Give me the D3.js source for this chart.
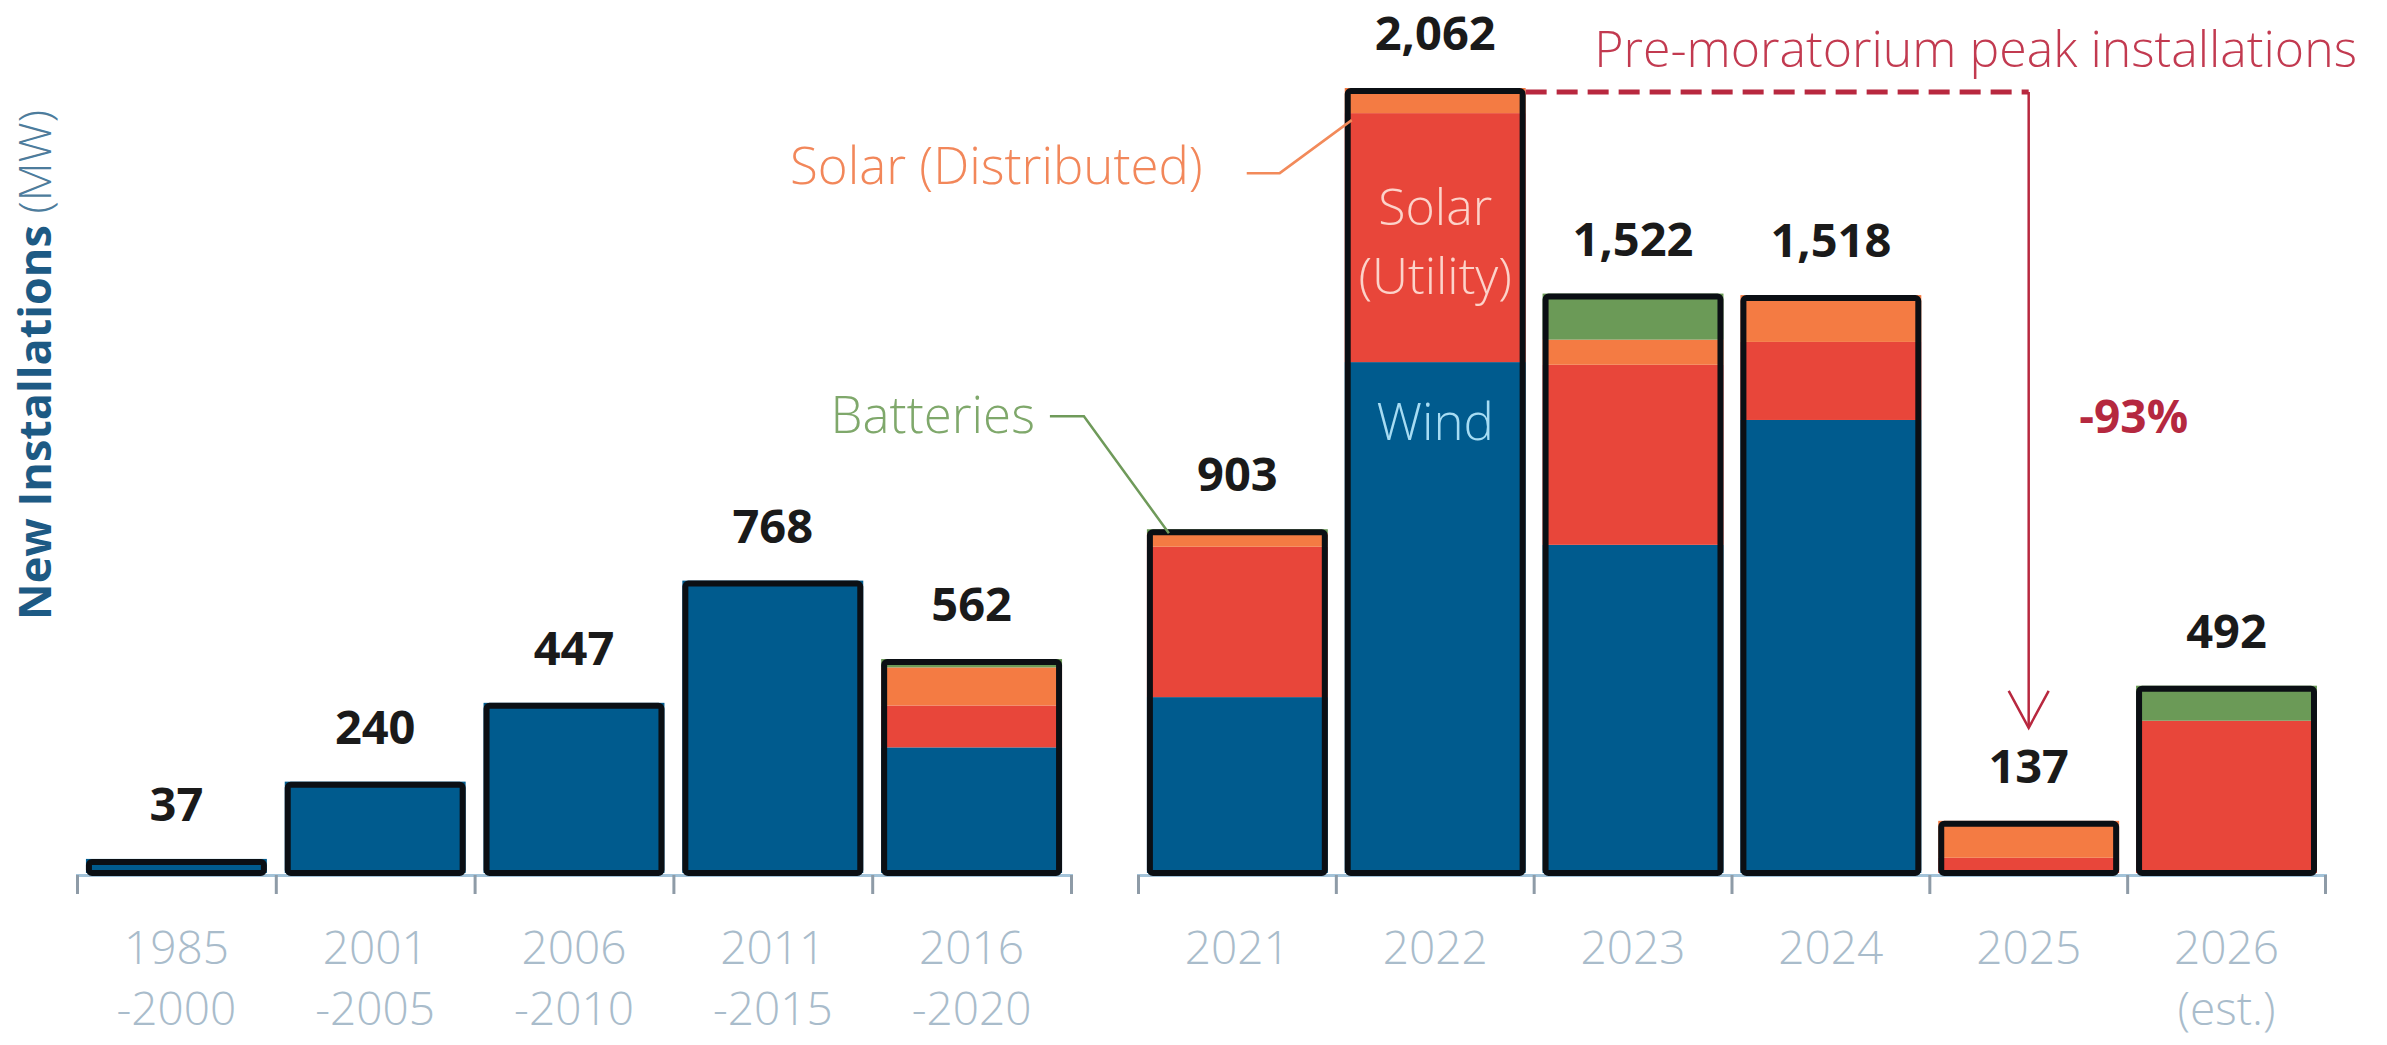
<!DOCTYPE html>
<html>
<head>
<meta charset="utf-8">
<title>New Installations (MW)</title>
<script src="https://d3js.org/d3.v7.min.js"></script>
<style>
  body { margin: 0; background: #fff; }
  svg { display: block; font-family: "Open Sans", sans-serif; }
</style>
</head>
<body>
<svg width="2387" height="1045"></svg>
<script>

// two groups of periods on the x axis
var periodsA = ["1985-2000", "2001-2005", "2006-2010", "2011-2015", "2016-2020"];
var periodsB = ["2021", "2022", "2023", "2024", "2025", "2026"];
var tickLabels = [["1985", "-2000"], ["2001", "-2005"], ["2006", "-2010"], ["2011", "-2015"], ["2016", "-2020"],
                  ["2021"], ["2022"], ["2023"], ["2024"], ["2025"], ["2026", "(est.)"]];

// MW per period
var totals           = [37, 240, 447, 768, 562, 903, 2062, 1522, 1518, 137, 492];
var wind             = [37, 240, 447, 768, 330, 462, 1342, 862, 1190, 0, 0];
var solarUtility     = [0, 0, 0, 0, 110, 395, 654, 473, 205, 40, 400];
var solarDistributed = [0, 0, 0, 0, 100, 36, 66, 66, 123, 97, 0];
var batteries        = [0, 0, 0, 0, 22, 10, 0, 121, 0, 0, 92];

var keys = ["wind", "utility", "distributed", "batteries"];
var colors = { wind: "#005b8e", utility: "#e8463a", distributed: "#f47b43", batteries: "#6b9a57" };

var periods = periodsA.concat(periodsB);
var rows = periods.map(function(p, i) {
  return { period: p, wind: wind[i], utility: solarUtility[i], distributed: solarDistributed[i], batteries: batteries[i] };
});

var svg = d3.select("svg");

var y = d3.scaleLinear().domain([0, 2062]).range([873, 88]);

var xA = d3.scaleBand().domain(periodsA).range([77, 1071]).paddingInner(0.09).paddingOuter(0.045);
var xB = d3.scaleBand().domain(periodsB).range([1138, 2325]).paddingInner(0.09).paddingOuter(0.045);
function xOf(p) { return periodsA.indexOf(p) >= 0 ? xA(p) : xB(p); }
var bw = xA.bandwidth();

// axes: ticks at the band boundaries
var bA = d3.scaleLinear().domain([0, periodsA.length]).range(xA.range());
var bB = d3.scaleLinear().domain([0, periodsB.length]).range(xB.range());
[[bA, periodsA.length], [bB, periodsB.length]].forEach(function(a) {
  var g = svg.append("g")
      .attr("transform", "translate(0,875)")
      .call(d3.axisBottom(a[0]).ticks(a[1]).tickSize(19).tickSizeOuter(19).tickFormat(""));
  g.select(".domain").attr("stroke", "#a3c3d9").attr("stroke-width", 3);
  g.selectAll(".tick line").attr("stroke", "#8e9ba7").attr("stroke-width", 3);
});

// stacked bars
var series = d3.stack().keys(keys)(rows);

svg.append("g").selectAll("g")
  .data(series)
  .join("g")
    .attr("fill", function(d) { return colors[d.key]; })
  .selectAll("rect")
  .data(function(d) { return d; })
  .join("rect")
    .attr("x", function(d) { return xOf(d.data.period); })
    .attr("width", bw)
    .attr("y", function(d) { return y(d[1]); })
    .attr("height", function(d) { return y(d[0]) - y(d[1]); });

// black outline round each bar
svg.append("g").selectAll("rect")
  .data(periods)
  .join("rect")
    .attr("x", function(d) { return xOf(d) + 3; })
    .attr("width", bw - 6)
    .attr("y", function(d, i) { return y(totals[i]) + 3; })
    .attr("height", function(d, i) { return y(0) - y(totals[i]) - 3; })
    .attr("rx", 3)
    .attr("fill", "none")
    .attr("stroke", "#0b0f14")
    .attr("stroke-width", 6);

// totals above bars
svg.append("g").selectAll("text")
  .data(periods)
  .join("text")
    .attr("x", function(d) { return xOf(d) + bw / 2; })
    .attr("y", function(d, i) { return y(totals[i]) - 38; })
    .attr("text-anchor", "middle")
    .attr("font-size", 47)
    .attr("font-weight", 700)
    .attr("fill", "#1a1a1a")
    .text(function(d, i) { return d3.format(",")(totals[i]); });

// period labels
svg.append("g").selectAll("text")
  .data(periods)
  .join("text")
    .attr("text-anchor", "middle")
    .attr("font-size", 46)
    .attr("font-weight", 300)
    .attr("fill", "#a9bccb")
    .each(function(d, i) {
      var t = d3.select(this), cx = xOf(d) + bw / 2;
      tickLabels[i].forEach(function(line, j) {
        t.append("tspan").attr("x", cx).attr("y", 964 + j * 61).text(line);
      });
    });

// y axis title
var yt = svg.append("text")
    .attr("transform", "translate(51,365) rotate(-90)")
    .attr("text-anchor", "middle")
    .attr("font-size", 45);
yt.append("tspan").attr("font-weight", 700).attr("fill", "#1d5a84").text("New Installations ");
yt.append("tspan").attr("font-weight", 300).attr("fill", "#4d7c9c").text("(MW)");

// labels inside the 2022 bar
var c22 = xOf("2022") + bw / 2;
svg.append("text").attr("x", c22).attr("y", 225).attr("text-anchor", "middle")
  .attr("font-size", 50).attr("font-weight", 300).attr("fill", "#fcd3ca").text("Solar");
svg.append("text").attr("x", c22).attr("y", 294).attr("text-anchor", "middle")
  .attr("font-size", 50).attr("font-weight", 300).attr("fill", "#fcd3ca").text("(Utility)");
svg.append("text").attr("x", c22).attr("y", 440).attr("text-anchor", "middle")
  .attr("font-size", 51).attr("font-weight", 300).attr("fill", "#a6dcf3").text("Wind");

// callouts for the thin segments
var x22 = xOf("2022"), x21 = xOf("2021");
var yDist = y(wind[6] + solarUtility[6]) + 7;
svg.append("path")
    .attr("d", "M" + (x22 - 98) + "," + (yDist + 53) + "H" + (x22 - 65) + "L" + (x22 + 7) + "," + yDist)
    .attr("fill", "none").attr("stroke", "#f28a5a").attr("stroke-width", 2.5);
svg.append("text").attr("x", x22 - 142).attr("y", yDist + 64).attr("text-anchor", "end")
  .attr("font-size", 51).attr("font-weight", 300).attr("fill", "#f2875a").text("Solar (Distributed)");

var yBat = y(totals[5]) + 4;
svg.append("path")
    .attr("d", "M" + (x21 - 97) + "," + (yBat - 117) + "H" + (x21 - 63) + "L" + (x21 + 22) + "," + yBat)
    .attr("fill", "none").attr("stroke", "#6f9a5a").attr("stroke-width", 2.5);
svg.append("text").attr("x", x21 - 112).attr("y", yBat - 100).attr("text-anchor", "end")
  .attr("font-size", 51).attr("font-weight", 300).attr("fill", "#7fa86b").text("Batteries");

// drop from the 2022 peak to 2025
var peakY = y(totals[6]) + 4;
var c25 = xOf("2025") + bw / 2;
var tipY = y(totals[9]) - 93;
svg.append("path")
    .attr("d", "M" + (x22 + bw) + "," + peakY + "H" + c25)
    .attr("stroke", "#b8283f").attr("stroke-width", 5).attr("stroke-dasharray", "21,10");
svg.append("path")
    .attr("d", "M" + c25 + "," + peakY + "V" + tipY)
    .attr("stroke", "#b8283f").attr("stroke-width", 2.5);
svg.append("path")
    .attr("d", "M" + (c25 - 20) + "," + (tipY - 37) + "L" + c25 + "," + tipY + "L" + (c25 + 20) + "," + (tipY - 37))
    .attr("fill", "none").attr("stroke", "#b8283f").attr("stroke-width", 2.5);
svg.append("text").attr("x", 2357).attr("y", 67).attr("text-anchor", "end")
  .attr("font-size", 50).attr("font-weight", 300).attr("fill", "#c23a50").text("Pre-moratorium peak installations");
svg.append("text").attr("x", c25 + 105).attr("y", 433).attr("text-anchor", "middle")
  .attr("font-size", 46).attr("font-weight", 700).attr("fill", "#b5283f").text("-93%");

</script>
</body>
</html>
